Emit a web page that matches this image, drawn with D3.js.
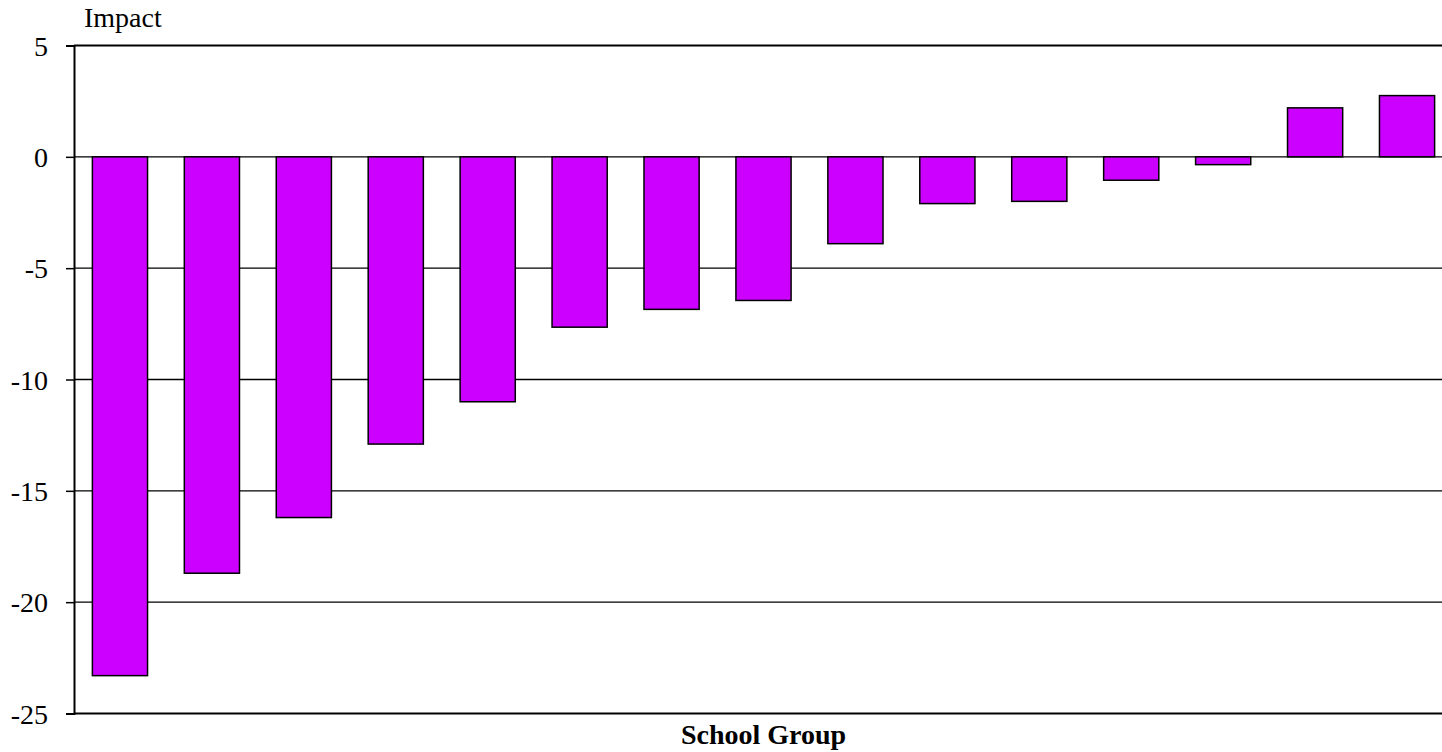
<!DOCTYPE html>
<html>
<head>
<meta charset="utf-8">
<script src="https://cdn.jsdelivr.net/npm/d3@7"></script>
<style>
  html, body { margin: 0; padding: 0; background: #fff; overflow: hidden; }
  svg { display: block; }
  text { font-family: "Liberation Serif", "Times New Roman", serif; fill: #000; }
</style>
</head>
<body>
<svg id="chart" width="1442" height="752"></svg>
<script>
// School groups, ordered from largest negative impact to largest positive
const groups = ["G1","G2","G3","G4","G5","G6","G7","G8","G9","G10","G11","G12","G13","G14","G15"];
const impact = [-23.3, -18.7, -16.2, -12.9, -11.0, -7.65, -6.85, -6.45, -3.9, -2.1, -2.0, -1.05, -0.35, 2.2, 2.75];
const yTicks = [5, 0, -5, -10, -15, -20, -25];

const serif = '"Liberation Serif", "Times New Roman", serif';
const svg = d3.select("#chart");
const plotLeft = 74, plotRight = 1453, plotTop = 45.5, plotBottom = 713.5;

const x = d3.scaleBand()
  .domain(groups)
  .range([plotLeft, plotRight])
  .paddingInner(0.4)
  .paddingOuter(0.2);

const y = d3.scaleLinear()
  .domain([-25, 5])
  .range([plotBottom, plotTop]);

// horizontal gridlines
svg.append("g")
  .selectAll("line")
  .data(yTicks)
  .join("line")
  .attr("x1", plotLeft)
  .attr("x2", plotRight)
  .attr("y1", d => y(d))
  .attr("y2", d => y(d))
  .attr("stroke", "#000")
  .attr("stroke-width", d => (d === 5 || d === -25) ? 2 : 1.3);

// bars
svg.append("g")
  .selectAll("rect")
  .data(groups.map((g, i) => ({ g, v: impact[i] })))
  .join("rect")
  .attr("x", d => x(d.g))
  .attr("width", x.bandwidth())
  .attr("y", d => y(Math.max(0, d.v)))
  .attr("height", d => Math.abs(y(d.v) - y(0)))
  .attr("fill", "#CC00FF")
  .attr("stroke", "#000")
  .attr("stroke-width", 1.5);

// y axis (plain hyphen for negative labels)
const yAxis = d3.axisLeft(y)
  .tickValues(yTicks)
  .tickSize(8)
  .tickPadding(18)
  .tickFormat(d => String(d));

const gy = svg.append("g")
  .attr("transform", `translate(${plotLeft},0)`)
  .call(yAxis)
  .attr("font-family", serif)
  .attr("font-size", 28);
gy.select(".domain").attr("stroke", "#000").attr("stroke-width", 2);
gy.selectAll(".tick line").attr("stroke", "#000").attr("stroke-width", 1.5);
gy.selectAll(".tick text")
  .attr("fill", "#000")
  .attr("dy", "0.34em");

// axis titles
svg.append("text")
  .attr("x", 84)
  .attr("y", 27)
  .attr("font-family", serif)
  .attr("font-size", 28)
  .text("Impact");

svg.append("text")
  .attr("x", (plotLeft + plotRight) / 2)
  .attr("y", 744)
  .attr("text-anchor", "middle")
  .attr("font-family", serif)
  .attr("font-size", 28)
  .attr("font-weight", "bold")
  .text("School Group");
</script>
</body>
</html>
